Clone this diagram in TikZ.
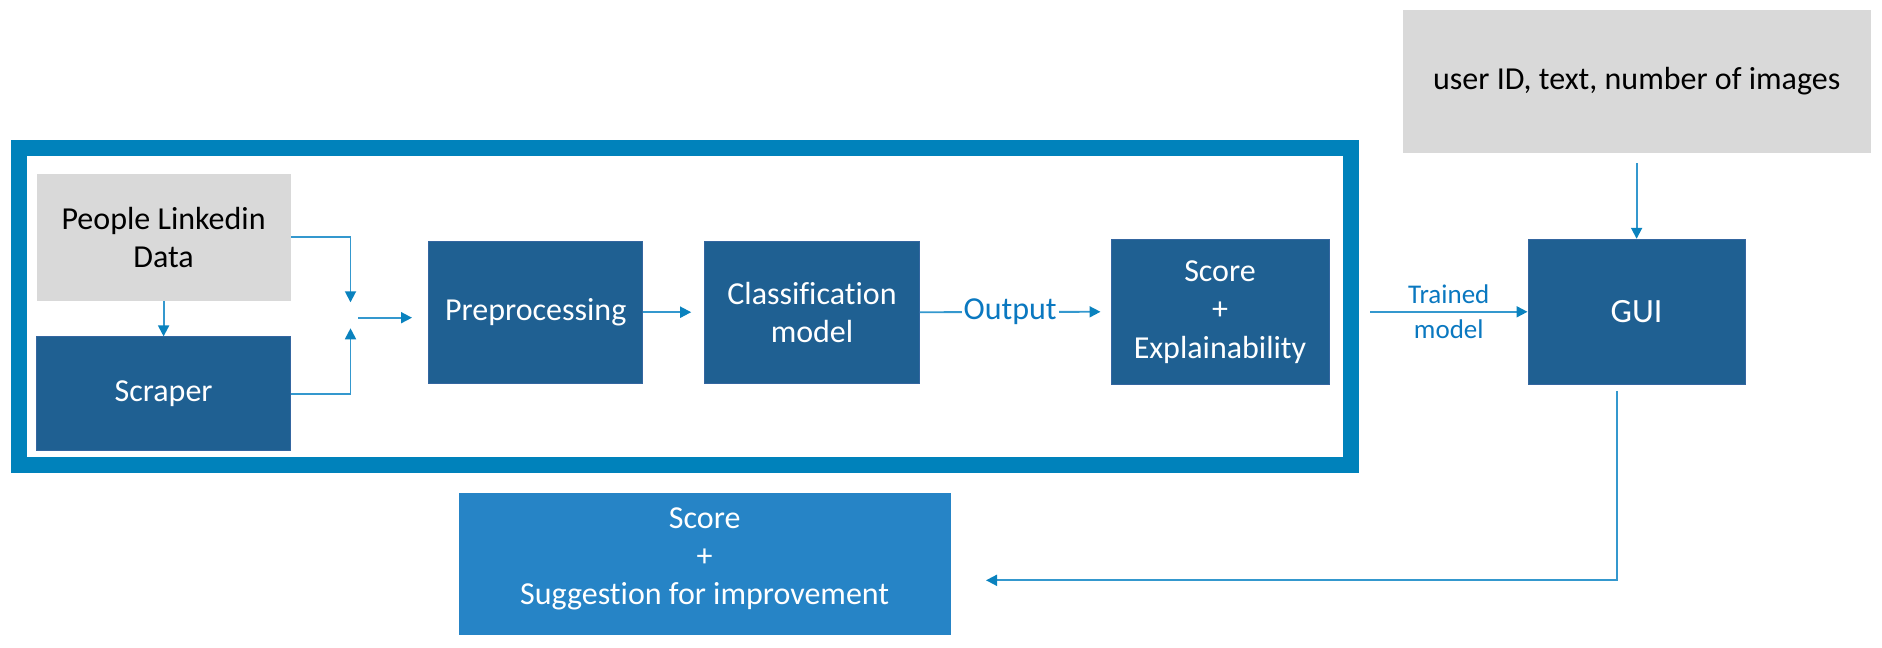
\documentclass[tikz,border=0pt]{standalone}
\usepackage{fontspec}
\setmainfont{Carlito}[Ligatures={NoCommon}]
\usetikzlibrary{arrows.meta}
\definecolor{boxblue}{RGB}{31,96,146}
\definecolor{boxedge}{RGB}{52,102,160}
\definecolor{framec}{RGB}{0,130,187}
\definecolor{lightbox}{RGB}{38,132,198}
\definecolor{graybox}{RGB}{217,217,217}
\definecolor{arrline}{RGB}{52,152,206}
\definecolor{arrhead}{RGB}{10,130,190}
\definecolor{labc}{RGB}{10,120,192}
\tikzset{
  basebox/.style={inner sep=0pt, align=center, font=\fontsize{16pt}{19.2pt}\selectfont},
  darkbox/.style={basebox, fill=boxblue, draw=boxedge, line width=0.5pt, text=white},
  greybox/.style={basebox, fill=graybox, text=black},
  bluebox/.style={basebox, fill=lightbox, text=white},
  arr/.style={draw=arrline, line width=0.9pt, -{Triangle[length=5.5pt,width=5.5pt,color=arrhead,fill=arrhead]}},
  lab/.style={text=labc, inner sep=0pt}
}
\begin{document}
\begin{tikzpicture}[x=0.5pt,y=-0.5pt]
\useasboundingbox (0,0) rectangle (1882,647);
% frame
\node[draw=framec, line width=8pt, minimum width=666pt, minimum height=158.9pt, inner sep=0pt] (frame) at (685,306.4) {};
% boxes
\node[greybox, minimum width=127pt, minimum height=63.4pt] (people) at (163.6,237.3) {People Linkedin\\Data};
\node[darkbox, minimum width=127pt, minimum height=56.9pt] (scraper) at (163.6,393.8) {Scraper};
\node[darkbox, minimum width=107.2pt, minimum height=71.2pt] (prep) at (535.7,312.2) {Preprocessing};
\node[darkbox, minimum width=107.3pt, minimum height=71.2pt] (class) at (812,312.2) {Classification\\model};
\node[darkbox, minimum width=109pt, minimum height=72.5pt] (score) at (1220,311.8) {Score\\+\\Explainability};
\node[darkbox, minimum width=108.6pt, minimum height=72.5pt, font=\fontsize{17pt}{20pt}\selectfont] (gui) at (1636.6,311.8) {GUI};
\node[greybox, minimum width=234pt, minimum height=71.4pt] (user) at (1636.7,81.3) {user ID, text, number of images};
\node[bluebox, minimum width=245.9pt, minimum height=71.2pt, text depth=8pt] (result) at (704.7,564.2) {Score\\+\\Suggestion for improvement};
% merge coordinates
\coordinate (m1) at (350.5,302.3);
\coordinate (m2) at (350.5,328.3);
\coordinate (m3) at (358.3,317.7);
\coordinate (m4) at (412,317.7);
\coordinate (g1) at (1616,580.3);
% connectors
\draw[arr] (people.south) -- (scraper.north);
\draw[arr] (people.east) -| (m1);
\draw[arr] (scraper.east) -| (m2);
\draw[arr] (m3) -- (m4);
\draw[arr] (prep.east) -- ([xshift=-6.5pt]class.west);
\draw[arr] (class.east) -- ([xshift=-5pt]score.west)
  node[midway, fill=white, inner xsep=1pt, inner ysep=0pt, text=labc, font=\fontsize{16pt}{19.2pt}\selectfont] (outlab) {Output};
\draw[arr] ([xshift=5.5pt]frame.east |- gui.west) -- (gui.west)
  node[midway, lab, align=center, font=\fontsize{13.5pt}{17.5pt}\selectfont] (trained) {Trained\\model};
\draw[arr] ([yshift=-5pt]user.south -| gui.north) -- (gui.north);
\draw[arr] ([xshift=-10pt,yshift=-3pt]gui.south) -- ([xshift=-10pt]gui.south |- g1) -- ([xshift=17.5pt]result.east |- g1);
\end{tikzpicture}
\end{document}
